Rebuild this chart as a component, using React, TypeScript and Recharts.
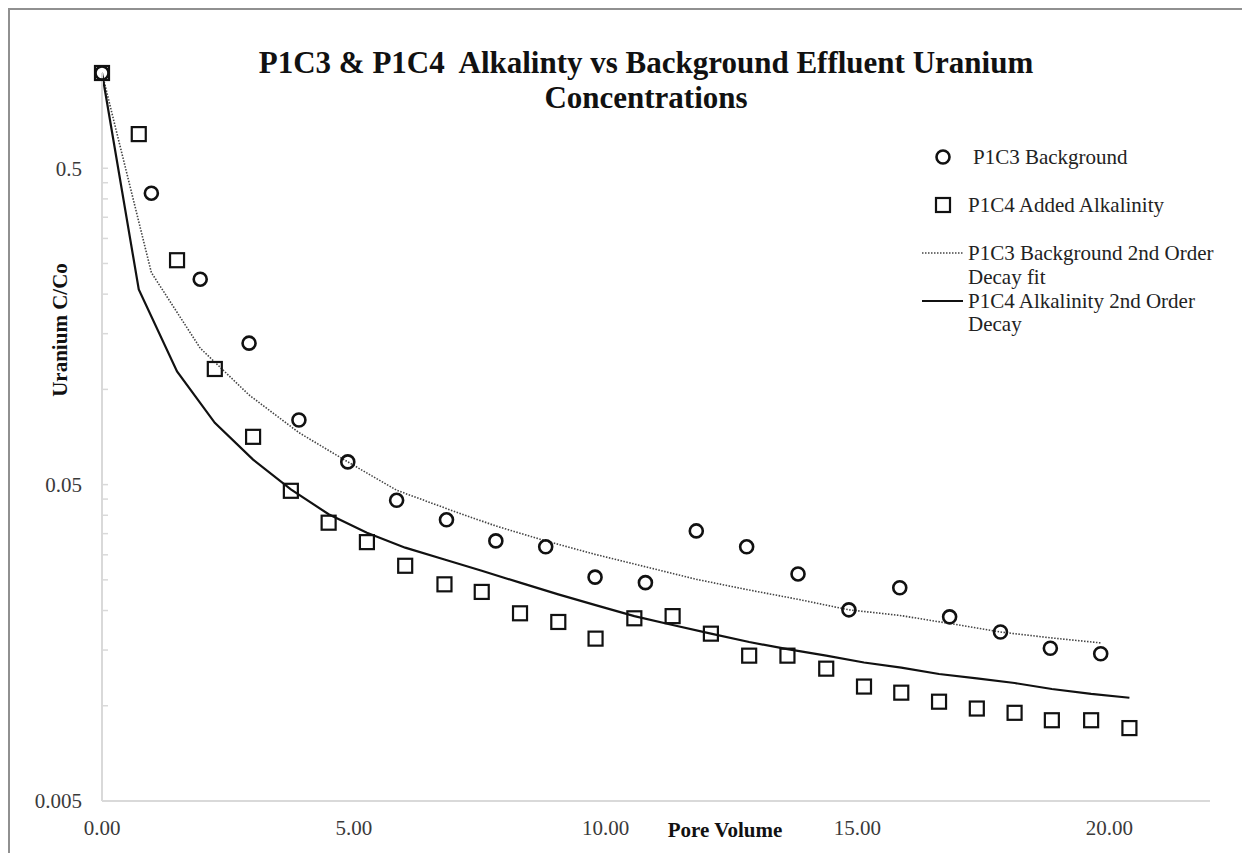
import React from 'react';
import { ComposedChart, Scatter, Line, XAxis, YAxis, Legend } from 'recharts';

// ---------- text ----------
const TITLE_LINE_1 = 'P1C3 & P1C4  Alkalinty vs Background Effluent Uranium';
const TITLE_LINE_2 = 'Concentrations';
const X_LABEL = 'Pore Volume';
const Y_LABEL = 'Uranium C/Co';

const BG_NAME = 'P1C3 Background';
const ALK_NAME = 'P1C4 Added Alkalinity';
const BG_FIT_NAME = ['P1C3 Background 2nd Order', 'Decay fit'];
const ALK_FIT_NAME = ['P1C4 Alkalinity 2nd Order', 'Decay'];

// ---------- ticks ----------
const xTicks = [0, 5, 10, 15, 20];
const yMajorTicks = [0.005, 0.05, 0.5];
const yMinorTicks = [
  0.01, 0.015, 0.02, 0.025, 0.03, 0.035, 0.04, 0.045,
  0.1, 0.15, 0.2, 0.25, 0.3, 0.35, 0.4, 0.45,
];

// ---------- data ----------
// P1C3 Background (circles) and its 2nd order decay fit (dotted)
const bgX = [0, 0.98, 1.95, 2.92, 3.91, 4.88, 5.85, 6.84, 7.82, 8.81, 9.79, 10.79, 11.8, 12.8, 13.82, 14.83, 15.84, 16.83, 17.84, 18.83, 19.83];
const bgY = [1.0, 0.417, 0.223, 0.14, 0.08, 0.059, 0.0446, 0.0387, 0.0332, 0.0318, 0.0255, 0.0245, 0.0357, 0.0318, 0.0261, 0.0201, 0.0236, 0.0191, 0.0171, 0.0152, 0.0146];
const bgFitY = [1.0, 0.234, 0.135, 0.096, 0.073, 0.059, 0.048, 0.042, 0.037, 0.0332, 0.0301, 0.0275, 0.0251, 0.0233, 0.0217, 0.0201, 0.0193, 0.0182, 0.0171, 0.0164, 0.0158];

// P1C4 Added Alkalinity (squares) and its 2nd order decay fit (solid)
const alkX = [0, 0.73, 1.49, 2.24, 3.0, 3.75, 4.5, 5.26, 6.02, 6.8, 7.54, 8.3, 9.06, 9.8, 10.57, 11.33, 12.09, 12.85, 13.61, 14.38, 15.13, 15.87, 16.62, 17.37, 18.12, 18.86, 19.64, 20.4];
const alkY = [1.0, 0.641, 0.256, 0.116, 0.0708, 0.0478, 0.0379, 0.0329, 0.0277, 0.0242, 0.0229, 0.0196, 0.0184, 0.0163, 0.0189, 0.0192, 0.0169, 0.0144, 0.0144, 0.0131, 0.0115, 0.011, 0.0103, 0.0098, 0.0095, 0.009, 0.009, 0.0085];
const alkFitY = [1.0, 0.207, 0.114, 0.0784, 0.06, 0.0483, 0.0403, 0.0352, 0.0316, 0.029, 0.0267, 0.0245, 0.0225, 0.0208, 0.0192, 0.018, 0.0169, 0.0159, 0.0151, 0.0144, 0.0137, 0.0132, 0.0126, 0.0122, 0.0118, 0.0113, 0.0109, 0.0106];

const bgData = bgX.map((x, i) => ({ x, y: bgY[i] }));
const bgFitData = bgX.map((x, i) => ({ x, y: bgFitY[i] }));
const alkData = alkX.map((x, i) => ({ x, y: alkY[i] }));
const alkFitData = alkX.map((x, i) => ({ x, y: alkFitY[i] }));

const FONT = '"Liberation Serif", "Times New Roman", serif';
const AXIS_GRAY = '#d9d9d9';

const CircleShape = (props: any) => {
  const { cx, cy } = props;
  if (cx == null || cy == null) return null;
  return <circle cx={cx} cy={cy} r={6.5} fill="none" stroke="#111" strokeWidth={2.6} />;
};

const SquareShape = (props: any) => {
  const { cx, cy } = props;
  if (cx == null || cy == null) return null;
  return <rect x={cx - 7} y={cy - 7} width={14} height={14} fill="none" stroke="#111" strokeWidth={2.2} />;
};

const XTick = (props: any) => {
  const { x, y, payload } = props;
  return (
    <text x={x} y={y + 34} textAnchor="middle" fontSize={21} fontFamily={FONT} fill="#3a3a3a">
      {Number(payload.value).toFixed(2)}
    </text>
  );
};

const YTick = (props: any) => {
  const { x, y, payload } = props;
  const v = payload.value;
  const major = yMajorTicks.indexOf(v) >= 0;
  return (
    <g>
      <line x1={x} x2={x + 6} y1={y} y2={y} stroke={AXIS_GRAY} strokeWidth={1.5} />
      {major && (
        <text x={x - 20} y={y} dy="0.35em" textAnchor="end" fontSize={21} fontFamily={FONT} fill="#3a3a3a">
          {String(v)}
        </text>
      )}
    </g>
  );
};

const LegendContent = () => {
  const t = { fontSize: 21, fontFamily: FONT, fill: '#222' } as const;
  return (
    <svg width={330} height={210} style={{ overflow: 'visible', display: 'block' }}>
      <circle cx={29} cy={22} r={6.5} fill="none" stroke="#111" strokeWidth={2.6} />
      <text x={59} y={22} dy="0.35em" {...t}>{BG_NAME}</text>
      <rect x={22} y={63} width={14} height={14} fill="none" stroke="#111" strokeWidth={2.2} />
      <text x={54} y={70} dy="0.35em" {...t}>{ALK_NAME}</text>
      <line x1={8} x2={49} y1={118} y2={118} stroke="#444" strokeWidth={1.6} strokeDasharray="1.5 1.5" />
      <text x={54} y={118} dy="0.35em" {...t}>{BG_FIT_NAME[0]}</text>
      <text x={54} y={142} dy="0.35em" {...t}>{BG_FIT_NAME[1]}</text>
      <line x1={8} x2={49} y1={166} y2={166} stroke="#111" strokeWidth={2.2} />
      <text x={54} y={166} dy="0.35em" {...t}>{ALK_FIT_NAME[0]}</text>
      <text x={54} y={189} dy="0.35em" {...t}>{ALK_FIT_NAME[1]}</text>
    </svg>
  );
};

export default function App() {
  const W = 1238;
  const H = 845;
  return (
    <div style={{ position: 'relative', width: W, height: H, background: '#fff' }}>
      <div
        style={{
          position: 'absolute', left: 0, top: 0, width: W, height: H + 10,
          boxSizing: 'border-box', border: '2px solid #909090', pointerEvents: 'none',
        }}
      />
      <div style={{ position: 'absolute', left: 0, top: 0 }}>
        <ComposedChart width={W} height={H} margin={{ top: 65, right: 36, bottom: 12, left: 0 }}>
          <XAxis
            type="number"
            dataKey="x"
            domain={[0, 22]}
            ticks={xTicks}
            interval={0}
            tickSize={0}
            tickMargin={0}
            tickLine={false}
            tick={<XTick />}
            axisLine={{ stroke: AXIS_GRAY, strokeWidth: 2 }}
            height={40}
          />
          <YAxis
            type="number"
            dataKey="y"
            scale="log"
            domain={[0.005, 1]}
            ticks={[...yMajorTicks, ...yMinorTicks]}
            interval={0}
            tickSize={0}
            tickMargin={0}
            tickLine={false}
            tick={<YTick />}
            axisLine={{ stroke: AXIS_GRAY, strokeWidth: 2 }}
            width={94}
          />
          <Line
            data={bgFitData}
            dataKey="y"
            type="linear"
            stroke="#444"
            strokeWidth={1.6}
            strokeDasharray="1.5 1.5"
            dot={false}
            activeDot={false}
            isAnimationActive={false}
            name={BG_FIT_NAME.join(' ')}
          />
          <Line
            data={alkFitData}
            dataKey="y"
            type="linear"
            stroke="#111"
            strokeWidth={2.2}
            dot={false}
            activeDot={false}
            isAnimationActive={false}
            name={ALK_FIT_NAME.join(' ')}
          />
          <Scatter data={bgData} dataKey="y" name={BG_NAME} shape={CircleShape} isAnimationActive={false} />
          <Scatter data={alkData} dataKey="y" name={ALK_NAME} shape={SquareShape} isAnimationActive={false} />
          <Legend
            layout="vertical"
            align="center"
            verticalAlign="middle"
            content={<LegendContent />}
            wrapperStyle={{ position: 'absolute', left: 906, top: 127, width: 330, height: 210 }}
          />
        </ComposedChart>
      </div>
      <div
        style={{
          position: 'absolute', left: 238, top: 37, width: 800, textAlign: 'center',
          fontFamily: FONT, fontWeight: 'bold', fontSize: 31, lineHeight: '35px',
          color: '#111', whiteSpace: 'pre',
        }}
      >
        {TITLE_LINE_1}
        {'\n'}
        {TITLE_LINE_2}
      </div>
      <div
        style={{
          position: 'absolute', left: 52, top: 322, transform: 'translate(-50%, -50%) rotate(-90deg)',
          fontFamily: FONT, fontWeight: 'bold', fontSize: 21, lineHeight: '21px', color: '#111', whiteSpace: 'nowrap',
        }}
      >
        {Y_LABEL}
      </div>
      <div
        style={{
          position: 'absolute', left: 717, top: 812, transform: 'translateX(-50%)',
          fontFamily: FONT, fontWeight: 'bold', fontSize: 21, lineHeight: '21px', color: '#111', whiteSpace: 'nowrap',
        }}
      >
        {X_LABEL}
      </div>
    </div>
  );
}
